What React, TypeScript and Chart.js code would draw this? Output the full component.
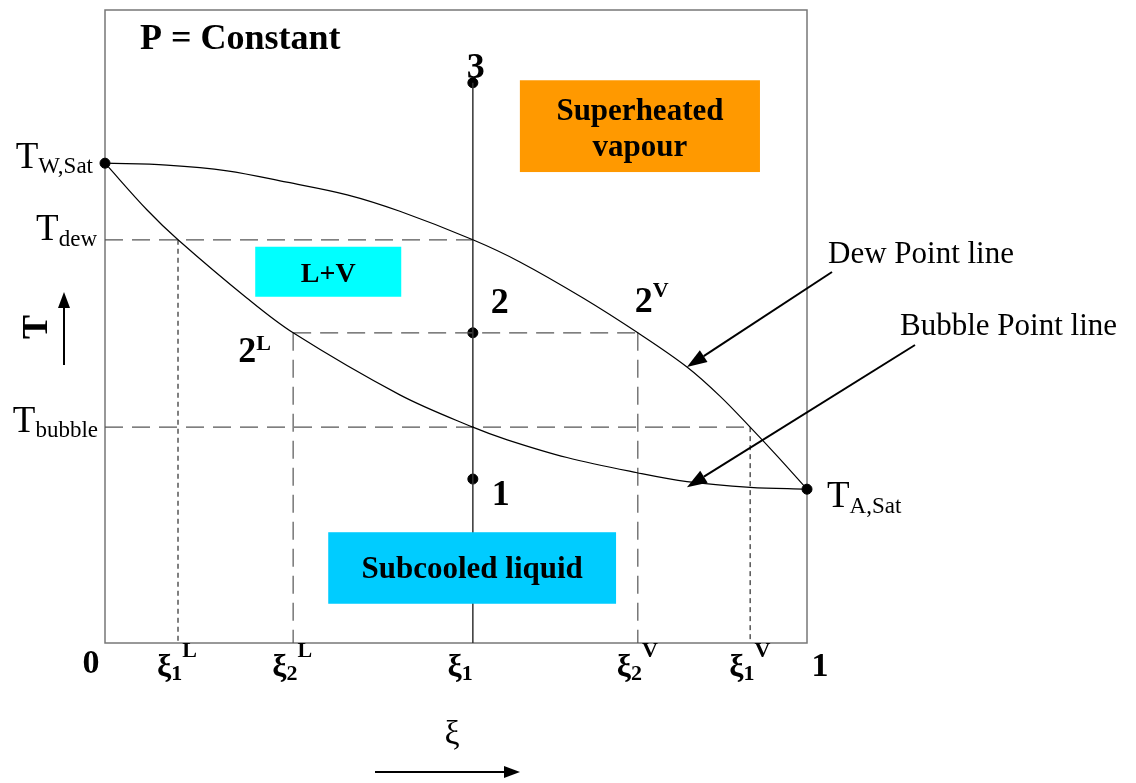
import React, { useEffect, useRef } from "react";
import { Chart, registerables } from "chart.js";

Chart.register(...registerables);

const SERIF = '"Liberation Serif", "Times New Roman", serif';

// Dew point line (upper curve): composition ξ vs temperature
const dewXi = [0, 0.088, 0.174, 0.259, 0.345, 0.42, 0.524, 0.591, 0.681, 0.759, 0.829, 0.876, 0.919, 0.957, 1];
const dewT = [75.8, 75.5, 74.6, 72.8, 70.8, 68.2, 63.7, 60.2, 54.5, 49.0, 43.6, 39.0, 34.1, 29.6, 24.3];

// Bubble point line (lower curve)
const bubbleXi = [0, 0.06, 0.104, 0.202, 0.268, 0.42, 0.524, 0.573, 0.658, 0.758, 0.829, 0.919, 1];
const bubbleT = [75.8, 68.4, 63.7, 54.5, 49.0, 39.2, 34.1, 32.1, 29.3, 26.9, 25.5, 24.6, 24.3];

// Temperature levels
const T_W_SAT = 75.8;
const T_DEW = 63.7;
const T_TWO = 49.0;
const T_BUBBLE = 34.1;
const T_A_SAT = 24.3;

// Compositions
const XI_1L = 0.104;
const XI_2L = 0.268;
const XI_1 = 0.524;
const XI_2V = 0.759;
const XI_1V = 0.919;

// State points on the ξ1 vertical
const stateLabels = ["3", "2", "1"];
const stateT = [88.5, 49.0, 25.9];

// Bottom tick labels
const xiTickPos = [XI_1L, XI_2L, XI_1, XI_2V, XI_1V];
const xiTickSub = ["1", "2", "1", "2", "1"];
const xiTickSup = ["L", "L", "", "V", "V"];

// Region labels
const regionLines = [["Superheated", "vapour"], ["L+V"], ["Subcooled liquid"]];
const regionXi = [[0.591, 0.933], [0.214, 0.422], [0.318, 0.728]];
const regionT = [[88.9, 74.4], [62.6, 54.7], [17.5, 6.2]];
const regionColors = ["#FF9900", "#00FFFF", "#00CCFF"];

type Part = { text: string; font: string; dy: number };

function drawParts(ctx: CanvasRenderingContext2D, x: number, y: number, parts: Part[], align: "left" | "right" | "center") {
  const widths = parts.map((p) => {
    ctx.font = p.font;
    return ctx.measureText(p.text).width;
  });
  const total = widths.reduce((s, w) => s + w, 0);
  let cx = align === "left" ? x : align === "right" ? x - total : x - total / 2;
  ctx.textAlign = "left";
  ctx.textBaseline = "alphabetic";
  parts.forEach((p, i) => {
    ctx.font = p.font;
    ctx.fillText(p.text, cx, y + p.dy);
    cx += widths[i];
  });
}

function arrow(ctx: CanvasRenderingContext2D, x0: number, y0: number, x1: number, y1: number, lw: number, len: number, half: number) {
  const ang = Math.atan2(y1 - y0, x1 - x0);
  const bx = x1 - len * Math.cos(ang);
  const by = y1 - len * Math.sin(ang);
  ctx.save();
  ctx.strokeStyle = "#000";
  ctx.fillStyle = "#000";
  ctx.lineWidth = lw;
  ctx.beginPath();
  ctx.moveTo(x0, y0);
  ctx.lineTo(bx, by);
  ctx.stroke();
  ctx.beginPath();
  ctx.moveTo(x1, y1);
  ctx.lineTo(bx + half * Math.sin(ang), by - half * Math.cos(ang));
  ctx.lineTo(bx - half * Math.sin(ang), by + half * Math.cos(ang));
  ctx.closePath();
  ctx.fill();
  ctx.restore();
}

const f = (w: string, size: number) => `${w} ${size}px ${SERIF}`;

const decor = {
  id: "decor",
  beforeDatasetsDraw(chart: any) {
    const { ctx, chartArea: a } = chart;
    ctx.save();
    ctx.strokeStyle = "#777";
    ctx.lineWidth = 1.5;
    ctx.strokeRect(a.left, a.top, a.right - a.left, a.bottom - a.top);
    ctx.restore();
  },
  afterDatasetsDraw(chart: any) {
    const { ctx, chartArea: a } = chart;
    const px = (v: number) => chart.scales.x.getPixelForValue(v);
    const py = (v: number) => chart.scales.y.getPixelForValue(v);
    ctx.save();

    // Region boxes
    regionLines.forEach((lines, i) => {
      const x0 = px(regionXi[i][0]);
      const x1 = px(regionXi[i][1]);
      const y0 = py(regionT[i][0]);
      const y1 = py(regionT[i][1]);
      ctx.fillStyle = regionColors[i];
      ctx.fillRect(x0, y0, x1 - x0, y1 - y0);
      ctx.fillStyle = "#000";
      ctx.font = f("bold", i === 1 ? 28 : 31);
      ctx.textAlign = "center";
      ctx.textBaseline = "alphabetic";
      const cx = (x0 + x1) / 2;
      if (lines.length === 2) {
        ctx.fillText(lines[0], cx, y0 + 40);
        ctx.fillText(lines[1], cx, y0 + 76);
      } else {
        const cy = (y0 + y1) / 2;
        ctx.fillText(lines[0], cx, cy + 10);
      }
    });

    ctx.fillStyle = "#000";

    // Title
    ctx.font = f("bold", 36);
    ctx.textAlign = "left";
    ctx.textBaseline = "alphabetic";
    ctx.fillText("P = Constant", a.left + 35, a.top + 39);

    // Left temperature labels
    const tFont = f("normal", 37);
    const sFont = f("normal", 23);
    drawParts(ctx, a.left - 12, py(T_W_SAT) + 5, [{ text: "T", font: tFont, dy: 0 }, { text: "W,Sat", font: sFont, dy: 5 }], "right");
    drawParts(ctx, a.left - 8, py(T_DEW) + 0, [{ text: "T", font: tFont, dy: 0 }, { text: "dew", font: sFont, dy: 6 }], "right");
    drawParts(ctx, a.left - 7, py(T_BUBBLE) + 5, [{ text: "T", font: tFont, dy: 0 }, { text: "bubble", font: sFont, dy: 5 }], "right");
    drawParts(ctx, a.right + 20, py(T_A_SAT) + 18, [{ text: "T", font: tFont, dy: 0 }, { text: "A,Sat", font: sFont, dy: 6 }], "left");

    // State labels
    const bF = f("bold", 36);
    ctx.font = bF;
    ctx.textAlign = "center";
    ctx.fillText(stateLabels[0], px(XI_1) + 3, py(stateT[0]) - 5);
    ctx.textAlign = "left";
    ctx.fillText(stateLabels[1], px(XI_1) + 18, py(stateT[1]) - 20);
    ctx.fillText(stateLabels[2], px(XI_1) + 19, py(stateT[2]) + 26);

    const supF = f("bold", 22);
    drawParts(ctx, px(XI_2V) - 3, py(T_TWO) - 21, [{ text: "2", font: bF, dy: 0 }, { text: "V", font: supF, dy: -15 }], "left");
    drawParts(ctx, px(XI_2L) - 55, py(T_TWO) + 29, [{ text: "2", font: bF, dy: 0 }, { text: "L", font: supF, dy: -12 }], "left");

    // Bottom ticks
    ctx.font = f("bold", 34);
    ctx.textAlign = "center";
    ctx.fillText("0", a.left - 14, a.bottom + 30);
    ctx.fillText("1", a.right + 13, a.bottom + 33);

    const xiF = f("bold", 32);
    const subF = f("bold", 22);
    xiTickPos.forEach((v, i) => {
      const parts: Part[] = [
        { text: "ξ", font: xiF, dy: 0 },
        { text: xiTickSub[i], font: subF, dy: 4 },
      ];
      if (xiTickSup[i]) {
        parts.push({ text: xiTickSup[i], font: supF, dy: -19 });
        drawParts(ctx, px(v) - 21, a.bottom + 33, parts, "left");
      } else {
        drawParts(ctx, px(v), a.bottom + 33, parts, "right");
      }
    });

    // Curve labels with arrows
    ctx.font = f("normal", 31);
    ctx.textAlign = "left";
    ctx.fillText("Dew Point line", a.right + 21, 263);
    ctx.fillText("Bubble Point line", a.right + 93, 335);
    arrow(ctx, a.right + 25, 272, px(0.829), py(43.6), 2, 20, 7);
    arrow(ctx, a.right + 108, 345, px(0.829), py(24.6), 2, 20, 7);

    // Axis title T (rotated) with arrow
    ctx.save();
    ctx.translate(47, 327);
    ctx.rotate(-Math.PI / 2);
    ctx.font = f("bold", 36);
    ctx.textAlign = "center";
    ctx.fillText("T", 0, 0);
    ctx.restore();
    arrow(ctx, 64, 365, 64, 292, 2, 16, 6);

    // Axis title ξ with arrow
    ctx.font = f("normal", 34);
    ctx.textAlign = "center";
    ctx.fillText("ξ", 452, 744);
    arrow(ctx, 375, 772, 520, 772, 2, 16, 6);

    ctx.restore();
  },
};

const pts = (xs: number[], ys: number[]) => xs.map((x, i) => ({ x, y: ys[i] }));

export default function App() {
  const ref = useRef<HTMLCanvasElement | null>(null);
  useEffect(() => {
    if (!ref.current) return;
    const longDash = { borderColor: "#555", borderWidth: 1.2, borderDash: [18, 9], pointRadius: 0, showLine: true };
    const shortDash = { borderColor: "#000", borderWidth: 1, borderDash: [5, 4], pointRadius: 0, showLine: true };
    const chart = new Chart(ref.current, {
      type: "scatter",
      data: {
        datasets: [
          { label: "Dew", data: pts(dewXi, dewT), showLine: true, borderColor: "#000", borderWidth: 1.2, pointRadius: 0, tension: 0.35 } as any,
          { label: "Bubble", data: pts(bubbleXi, bubbleT), showLine: true, borderColor: "#000", borderWidth: 1.2, pointRadius: 0, tension: 0.35 } as any,
          { label: "xi1", data: [{ x: XI_1, y: 0 }, { x: XI_1, y: stateT[0] }], showLine: true, borderColor: "#333", borderWidth: 1.5, pointRadius: 0 },
          { label: "Tdew", data: [{ x: 0, y: T_DEW }, { x: XI_1, y: T_DEW }], ...longDash },
          { label: "Tbubble", data: [{ x: 0, y: T_BUBBLE }, { x: XI_1V, y: T_BUBBLE }], ...longDash },
          { label: "T2", data: [{ x: XI_2L, y: T_TWO }, { x: XI_2V, y: T_TWO }], ...longDash },
          { label: "xi2L", data: [{ x: XI_2L, y: T_TWO }, { x: XI_2L, y: 0 }], ...longDash },
          { label: "xi2V", data: [{ x: XI_2V, y: T_TWO }, { x: XI_2V, y: 0 }], ...longDash },
          { label: "xi1L", data: [{ x: XI_1L, y: T_DEW }, { x: XI_1L, y: 0 }], ...shortDash },
          { label: "xi1V", data: [{ x: XI_1V, y: T_BUBBLE }, { x: XI_1V, y: 0 }], ...shortDash },
          {
            label: "points",
            data: [
              { x: 0, y: T_W_SAT },
              { x: 1, y: T_A_SAT },
              ...stateT.map((t) => ({ x: XI_1, y: t })),
            ],
            pointRadius: 5,
            pointBackgroundColor: "#000",
            pointBorderColor: "#000",
            showLine: false,
            clip: false,
          } as any,
        ],
      },
      options: {
        responsive: false,
        animation: false,
        devicePixelRatio: 1,
        layout: { padding: { left: 105, right: 329, top: 10, bottom: 140 } },
        scales: {
          x: { type: "linear", min: 0, max: 1, display: false },
          y: { type: "linear", min: 0, max: 100, display: false },
        },
        plugins: { legend: { display: false }, tooltip: { enabled: false } },
      },
      plugins: [decor],
    });
    return () => chart.destroy();
  }, []);
  return (
    <div style={{ position: "absolute", left: 0, top: 0, width: 1136, height: 783, background: "#fff" }}>
      <canvas ref={ref} width={1136} height={783} style={{ display: "block" }} />
    </div>
  );
}
